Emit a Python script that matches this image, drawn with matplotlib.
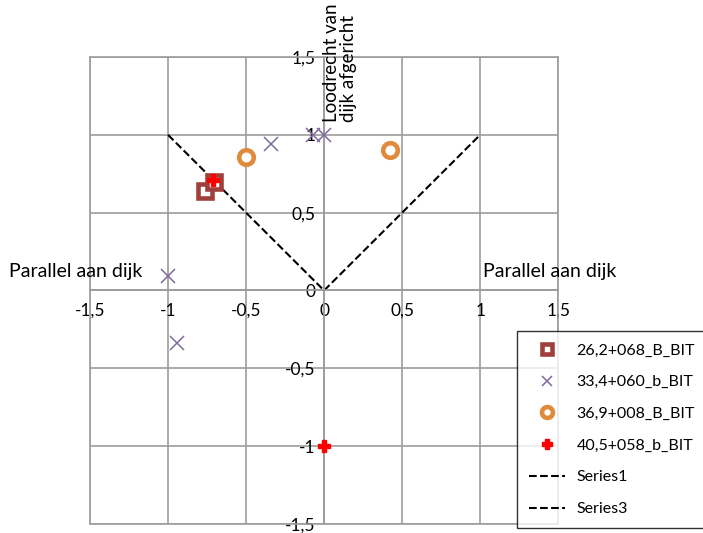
import numpy as np
import matplotlib
matplotlib.use('Agg')
import matplotlib.pyplot as plt

plt.rcParams['font.family'] = ['Lato', 'DejaVu Sans']

# data
sq_x = [-0.76, -0.705]
sq_y = [0.64, 0.70]
cross_x = [-1.0, -0.94, -0.34, -0.07, 0.0]
cross_y = [0.09, -0.34, 0.94, 1.0, 1.0]
circ_x = [-0.5, 0.42]
circ_y = [0.86, 0.90]
plus_x = [-0.71, 0.0]
plus_y = [0.71, -1.0]
s1_x = [-1, 0]
s1_y = [1, 0]
s3_x = [0, 1]
s3_y = [0, 1]

ticks = [-1.5, -1, -0.5, 0, 0.5, 1, 1.5]
tick_labels = ['-1,5', '-1', '-0,5', '0', '0,5', '1', '1,5']

gray = '#9c9c9c'

fig = plt.figure(figsize=(7.03, 5.33), dpi=100)
ax = fig.add_axes([0.128, 0.017, 0.666, 0.876])

ax.plot(sq_x, sq_y, 's', ms=9.5, mfc='white', mec='#a0403c', mew=3.3, label='26,2+068_B_BIT', zorder=3)
ax.plot(cross_x, cross_y, 'x', ms=10, mec='#7f6a9f', mew=1.1, label='33,4+060_b_BIT', zorder=3)
ax.plot(circ_x, circ_y, 'o', ms=10.5, mfc='white', mec='#e08a3c', mew=3.3, label='36,9+008_B_BIT', zorder=3)
ax.plot(plus_x, plus_y, 'P', ms=9, color='#ff0000', mec='#ff0000', label='40,5+058_b_BIT', zorder=4)
ax.plot(s1_x, s1_y, '--', color='black', lw=1.5, label='Series1', zorder=2)
ax.plot(s3_x, s3_y, '--', color='black', lw=1.5, label='Series3', zorder=2)

ax.set_xlim(-1.5, 1.5)
ax.set_ylim(-1.5, 1.5)
ax.set_xticks(ticks)
ax.set_yticks(ticks)
ax.set_xticklabels(tick_labels)
ax.set_yticklabels(tick_labels)
ax.tick_params(length=0, labelsize=12.5, pad=9)
ax.tick_params(axis='y', pad=6)
ax.grid(True, color=gray, lw=1.2)
ax.set_axisbelow(True)

for side in ['left', 'bottom']:
    ax.spines[side].set_position('zero')
for side in ax.spines:
    ax.spines[side].set_color(gray)
    ax.spines[side].set_linewidth(1.2)
ax.axhline(-1.5, color=gray, lw=1.2, clip_on=False)
ax.axvline(-1.5, color=gray, lw=1.2, clip_on=False)

ax.text(-2.02, 0.12, 'Parallel aan dijk', fontsize=14, ha='left', va='center')
ax.text(1.02, 0.12, 'Parallel aan dijk', fontsize=14, ha='left', va='center')
ax.text(0.1, 1.08, 'Loodrecht van\ndijk afgericht', fontsize=13.5, rotation=90,
        ha='center', va='bottom', multialignment='left', linespacing=1.0)

leg = fig.legend(loc='lower left', bbox_to_anchor=(0.735, 0.009),
                 frameon=True, fancybox=False, edgecolor='black',
                 fontsize=11.5, borderaxespad=0, handlelength=2.3, labelspacing=1.1,
                 borderpad=0.75, markerscale=0.75, handletextpad=0.7)
leg.get_frame().set_linewidth(1.0)

plt.savefig('out.png', dpi=100)
